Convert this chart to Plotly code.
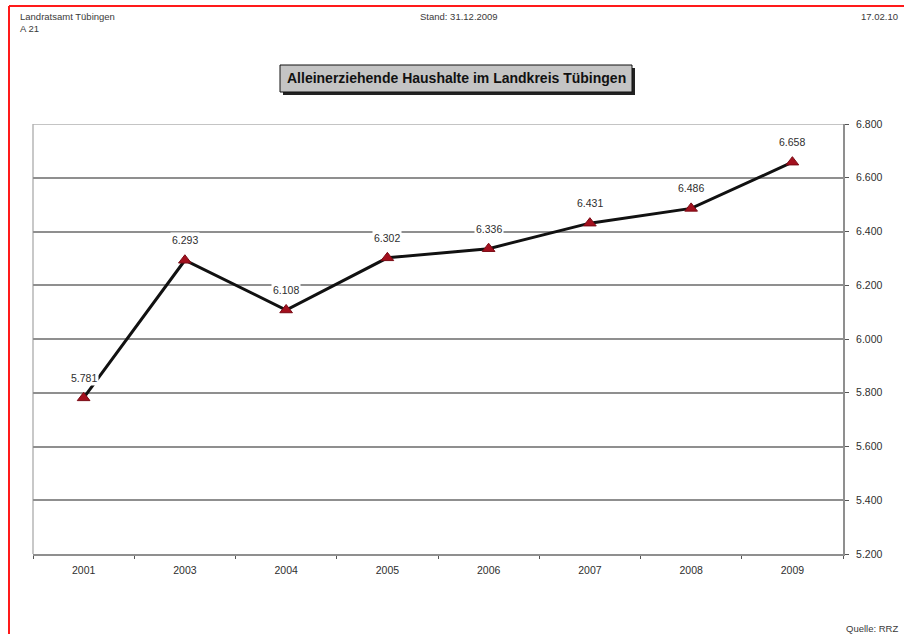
import plotly.graph_objects as go

# Single-parent households in the district of Tübingen
years = ["2001", "2003", "2004", "2005", "2006", "2007", "2008", "2009"]
households = [5781, 6293, 6108, 6302, 6336, 6431, 6486, 6658]
y_ticks = [5200, 5400, 5600, 5800, 6000, 6200, 6400, 6600, 6800]

W, H = 904, 634
L, R, T, B = 33, 61, 124, 80
PW, PH = W - L - R, H - T - B


def px(x):
    return (x - L) / PW


def py(y):
    return (H - B - y) / PH


FONT = "Liberation Sans, Arial, sans-serif"
GRID = "#8f8f8f"
TXT = "#2e2e2e"

fig = go.Figure()
fig.add_trace(go.Scatter(
    x=years, y=households, mode="lines+markers",
    line=dict(color="#111111", width=3),
    marker=dict(symbol="triangle-up", size=11, color="#a3101e",
                line=dict(color="#7a0a14", width=1)),
    cliponaxis=False, hoverinfo="skip", showlegend=False,
))

annotations = []
# value labels above each point (category index on the x axis)
for i, v in enumerate(households):
    annotations.append(dict(
        x=i, y=v, xref="x", yref="y", yshift=20,
        text=f"{v:,}".replace(",", "."), showarrow=False,
        font=dict(family=FONT, size=10.5, color=TXT),
        bgcolor="white", borderpad=1,
    ))

hdr = dict(family=FONT, size=9.5, color="#3a3a3a")
annotations += [
    dict(x=px(18), y=py(17), xref="paper", yref="paper", xanchor="left", yanchor="middle",
         text="Landratsamt Tübingen", showarrow=False, font=hdr),
    dict(x=px(18), y=py(28), xref="paper", yref="paper", xanchor="left", yanchor="middle",
         text="A 21", showarrow=False, font=hdr),
    dict(x=px(459), y=py(17), xref="paper", yref="paper", xanchor="center", yanchor="middle",
         text="Stand: 31.12.2009", showarrow=False, font=hdr),
    dict(x=px(900), y=py(17), xref="paper", yref="paper", xanchor="right", yanchor="middle",
         text="17.02.10", showarrow=False, font=hdr),
    dict(x=px(900), y=py(628), xref="paper", yref="paper", xanchor="right", yanchor="middle",
         text="Quelle: RRZ", showarrow=False, font=hdr),
    dict(x=px(456), y=py(78.5), xref="paper", yref="paper", xanchor="center", yanchor="middle",
         text="<b>Alleinerziehende Haushalte im Landkreis Tübingen</b>", showarrow=False,
         font=dict(family=FONT, size=14, color="#111111")),
]

shapes = [
    # page frame (top and left edges)
    dict(type="line", xref="paper", yref="paper", x0=px(9), x1=px(904), y0=py(6), y1=py(6),
         line=dict(color="#ff1a1a", width=2)),
    dict(type="line", xref="paper", yref="paper", x0=px(9), x1=px(9), y0=py(6), y1=py(634),
         line=dict(color="#ff1a1a", width=2)),
    # title box with drop shadow
    dict(type="rect", xref="paper", yref="paper", x0=px(283), x1=px(635), y0=py(68), y1=py(95),
         fillcolor="#222222", line=dict(width=0), layer="below"),
    dict(type="rect", xref="paper", yref="paper", x0=px(280), x1=px(632), y0=py(65), y1=py(92),
         fillcolor="#c4c4c4", line=dict(color="#111111", width=1), layer="below"),
    # left edge of plot area
    dict(type="line", xref="paper", yref="paper", x0=0, x1=0, y0=0, y1=1,
         line=dict(color="#c8c8c8", width=2), layer="below"),
    # top gridline at the upper end of the value range
    dict(type="line", xref="paper", yref="y", x0=0, x1=1, y0=y_ticks[-1], y1=y_ticks[-1],
         line=dict(color="#b0b0b0", width=1.5), layer="below"),
]

fig.update_layout(
    width=W, height=H,
    margin=dict(l=L, r=R, t=T, b=B),
    paper_bgcolor="white", plot_bgcolor="white",
    separators=",.",
    font=dict(family=FONT, size=10.5, color=TXT),
    annotations=annotations, shapes=shapes,
    xaxis=dict(
        type="category", range=[-0.5, 7.5], tickson="boundaries",
        ticks="outside", ticklen=3, tickcolor="#555555",
        showline=True, linecolor=GRID, linewidth=2,
        showgrid=False, zeroline=False, ticklabelstandoff=5,
        tickfont=dict(family=FONT, size=10.5, color=TXT),
    ),
    yaxis=dict(
        side="right", range=[5200, 6800], tickvals=y_ticks, tickformat=",d",
        ticks="outside", ticklen=4, tickcolor="#555555",
        showline=True, linecolor=GRID, linewidth=2,
        showgrid=True, gridcolor=GRID, gridwidth=1.5, zeroline=False,
        ticklabelstandoff=5,
        tickfont=dict(family=FONT, size=10.5, color=TXT),
    ),
)

fig.write_html("out.html")
